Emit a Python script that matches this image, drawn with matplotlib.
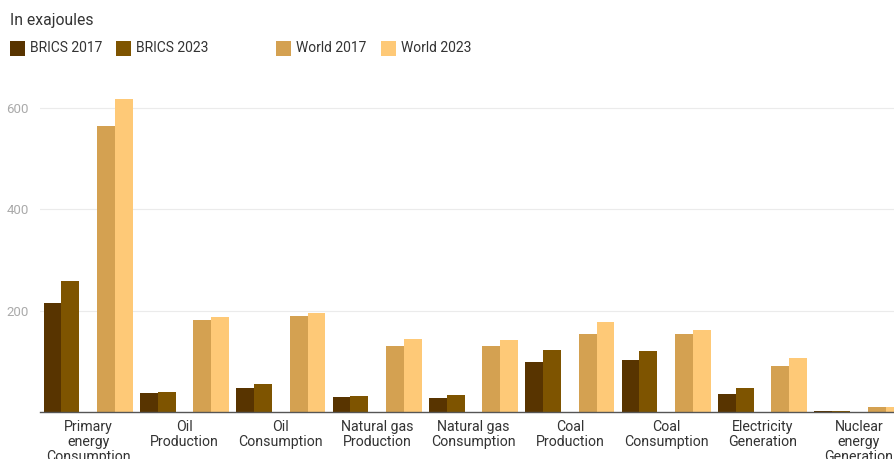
import matplotlib
matplotlib.use("Agg")
import matplotlib.pyplot as plt
from matplotlib.patches import Rectangle
import numpy as np

plt.rcParams['font.family'] = ['Roboto', 'DejaVu Sans']

categories = ["Primary\nenergy\nConsumption", "Oil\nProduction", "Oil\nConsumption",
              "Natural gas\nProduction", "Natural gas\nConsumption", "Coal\nProduction",
              "Coal\nConsumption", "Electricity\nGeneration", "Nuclear\nenergy\nGeneration"]
brics_2017 = [216, 37, 47, 29, 27, 99, 103, 35, 1.5]
brics_2023 = [258, 39.5, 55, 31, 33, 123, 120, 48, 1.8]
world_2017 = [564, 181, 189, 131, 130, 153, 153, 91, 9]
world_2023 = [617, 187, 195, 144, 143, 177, 162, 106, 9.5]

series = [("BRICS 2017", brics_2017, "#583400"),
          ("BRICS 2023", brics_2023, "#7e5400"),
          ("World 2017", world_2017, "#d4a151"),
          ("World 2023", world_2023, "#fec977")]
offsets = [-0.37, -0.185, 0.185, 0.37]
width = 0.185

fig = plt.figure(figsize=(8.95, 4.59), dpi=100)
ax = fig.add_axes([40 / 895, 47 / 459, 867 / 895, 330 / 459])

x = np.arange(len(categories))
for (name, vals, col), off in zip(series, offsets):
    ax.bar(x + off, vals, width=width, color=col, edgecolor="none", zorder=2)

ax.set_xlim(-0.5, len(categories) - 0.5)
ax.set_ylim(0, 651)
ax.set_yticks([200, 400, 600])
ax.set_yticklabels(["200", "400", "600"])
ax.tick_params(axis="y", length=0, pad=8, labelsize=9.5, labelcolor="#aaaaaa")
ax.set_xticks(x)
ax.set_xticklabels(categories, fontsize=10.2, color="#333333", linespacing=1.08)
ax.tick_params(axis="x", length=0, pad=6)
ax.grid(axis="y", color="#ebebeb", linewidth=0.8, zorder=0)
for s in ["top", "right", "left"]:
    ax.spines[s].set_visible(False)
ax.spines["bottom"].set_color("#555555")
ax.spines["bottom"].set_linewidth(1)

fig.text(10 / 895, 1 - 20 / 459, "In exajoules", fontsize=11.3, color="#333333", va="center")

legend_x = [10, 116, 276, 381]
for (name, vals, col), lx in zip(series, legend_x):
    fig.add_artist(Rectangle((lx / 895, 1 - 56 / 459), 15 / 895, 15 / 459,
                             transform=fig.transFigure, facecolor=col, edgecolor="none"))
    fig.text((lx + 20) / 895, 1 - 48 / 459, name, fontsize=10, color="#333333", va="center")

plt.savefig("out.png", dpi=100)
